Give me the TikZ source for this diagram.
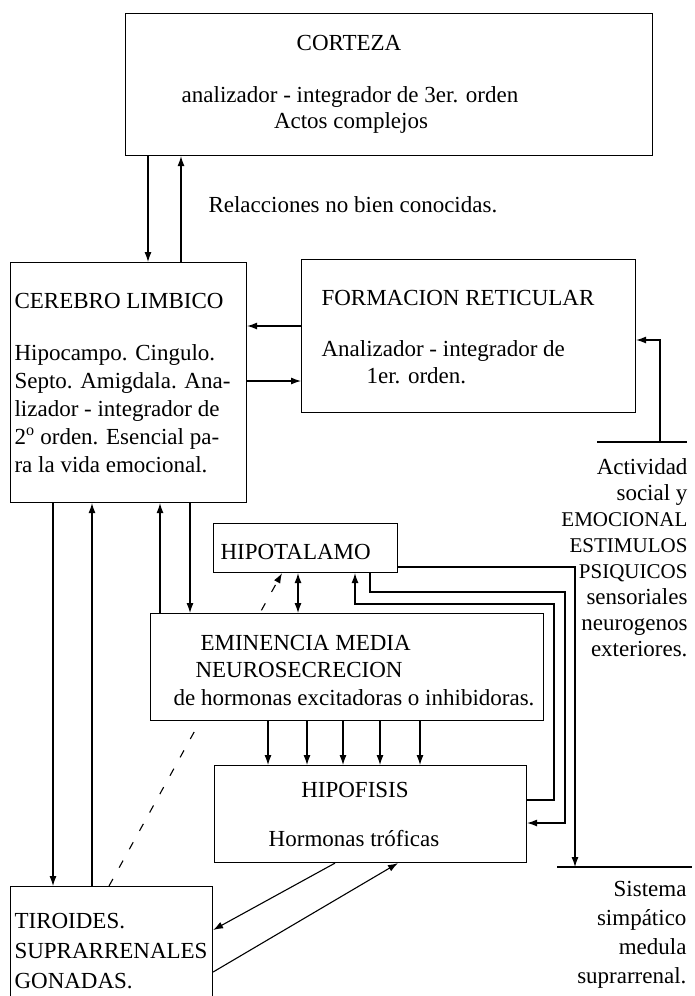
\documentclass[tikz,border=0pt]{standalone}
\usepackage{fontspec}
\setmainfont{Liberation Serif}
\usetikzlibrary{arrows.meta}

\newcommand{\capsline}[1]{{\fontsize{21}{26}\selectfont #1}}

\begin{document}
\begin{tikzpicture}[x=1pt,y=-1pt,line width=1.1pt,
    >={Latex[length=10pt,width=7pt]},
    font=\fontsize{23}{28}\selectfont,
    box/.style={draw,fill=white,anchor=north west,inner sep=0pt},
    txt/.style={inner sep=0pt,anchor=base west}]
    \useasboundingbox (0,0) rectangle (695,996);

    \node[box,minimum width=527,minimum height=142] (cor) at (125,13) {};
    \node[txt,anchor=base] (cort) at (349,50) {CORTEZA};
    \node[txt,anchor=base] (cor1) at (350,102) {analizador - integrador de 3er. orden};
    \node[txt,anchor=base] (cor2) at (351,128) {Actos complejos};
    \node[txt] (rel) at (208,212) {Relacciones no bien conocidas.};

    \node[box,minimum width=236,minimum height=240] (lim) at (10,262) {};
    \node[txt] (limt) at (14,308) {CEREBRO LIMBICO};
    \node[inner sep=0pt,anchor=north west,align=left] (lim1) at (14,344)
        {Hipocampo. Cingulo.\\Septo. Amigdala. Ana-\\lizador - integrador de\\
         2\textsuperscript{o} orden. Esencial pa-\\ra la vida emocional.};

    \node[box,minimum width=334,minimum height=153] (ret) at (301,259) {};
    \node[txt] (rett) at (321,305) {FORMACION RETICULAR};
    \node[txt] (ret1) at (321,356) {Analizador - integrador de};
    \node[txt] (ret2) at (366,383) {1er. orden.};

    \node[box,minimum width=184,minimum height=49] (hip) at (213,523) {};
    \node[txt] (hipt) at (220,559) {HIPOTALAMO};

    \node[box,minimum width=312,minimum height=97] (hf) at (214,765) {};
    \node[txt,anchor=base] (hft) at (355,797) {HIPOFISIS};
    \node[txt,anchor=base] (hf1) at (354,846) {Hormonas tróficas};

    \node[box,minimum width=202,minimum height=115] (tir) at (10,886) {};
    \node[inner sep=0pt,anchor=north west,align=left,font=\fontsize{23}{30}\selectfont]
        (tirt) at (14,913) {TIROIDES.\\SUPRARRENALES\\GONADAS.};

    \coordinate (d1) at (109,0);
    \coordinate (d2) at (282,0);
    \draw[->,dash pattern=on 8pt off 13pt] (d1 |- tir.north) -- (d2 |- hip.south);

    \node[box,minimum width=393,minimum height=107] (em) at (150,613) {};
    \node[txt] (emt) at (200,650) {EMINENCIA MEDIA};
    \node[txt] (em1) at (195,677) {NEUROSECRECION};
    \node[txt] (em2) at (173,705) {de hormonas excitadoras o inhibidoras.};

    \node[inner sep=0pt,anchor=north east,align=right,font=\fontsize{23}{26}\selectfont]
        (act) at (688,458) {Actividad\\social y\\\capsline{EMOCIONAL}\\\capsline{ESTIMULOS}\\
        \capsline{PSIQUICOS}\\sensoriales\\neurogenos\\exteriores.};
    \node[inner sep=0pt,anchor=north east,align=right,font=\fontsize{23}{29}\selectfont]
        (sis) at (687,881) {Sistema\\simpático\\medula\\suprarrenal.};

    \coordinate (k1) at (148,0);
    \coordinate (k2) at (181,0);
    \draw[->] (k1 |- cor.south) -- (k1 |- lim.north);
    \draw[<-] (k2 |- cor.south) -- (k2 |- lim.north);

    \coordinate (r1) at (0,326);
    \coordinate (r2) at (0,381);
    \draw[->] (ret.west |- r1) -- (lim.east |- r1);
    \draw[->] (lim.east |- r2) -- (ret.west |- r2);

    \coordinate (a1) at (597,442);
    \coordinate (a2) at (687,442);
    \coordinate (a3) at (660,340);
    \draw (a1) -- (a2);
    \draw[->] (a3 |- a1) -- (a3) -- (ret.east |- a3);

    \coordinate (v1) at (53,0);
    \coordinate (v2) at (92,0);
    \coordinate (v3) at (160,0);
    \coordinate (v4) at (190,0);
    \draw[->] (v1 |- lim.south) -- (v1 |- tir.north);
    \draw[<-] (v2 |- lim.south) -- (v2 |- tir.north);
    \draw[<-] (v3 |- lim.south) -- (v3 |- em.north);
    \draw[->] (v4 |- lim.south) -- (v4 |- em.north);

    \coordinate (e1) at (298,0);
    \draw[<->] (e1 |- hip.south) -- (e1 |- em.north);
    \foreach \x [count=\i] in {268,307,343,380,420} {
        \coordinate (f\i) at (\x,0);
        \draw[->] (f\i |- em.south) -- (f\i |- hf.north);
    }

    \coordinate (s1) at (557,867);
    \coordinate (s2) at (692,867);
    \draw (s1) -- (s2);
    \coordinate (o1) at (575,567);
    \draw[->] (hip.east |- o1) -- (o1) -- (o1 |- s1);
    \coordinate (m0) at (370,592);
    \coordinate (m1) at (565,592);
    \coordinate (m2) at (565,823);
    \draw[->] (m0 |- hip.south) -- (m0) -- (m1) -- (m2) -- (hf.east |- m2);
    \coordinate (n0) at (355,604);
    \coordinate (n1) at (554,604);
    \coordinate (n2) at (554,800);
    \draw[->] (hf.east |- n2) -- (n2) -- (n1) -- (n0) -- (n0 |- hip.south);

    \coordinate (t1) at (335,0);
    \coordinate (t2) at (0,930);
    \coordinate (t3) at (398,0);
    \coordinate (t4) at (0,972);
    \draw[->] (t1 |- hf.south) -- (tir.east |- t2);
    \draw[->] (tir.east |- t4) -- (t3 |- hf.south);
\end{tikzpicture}
\end{document}
